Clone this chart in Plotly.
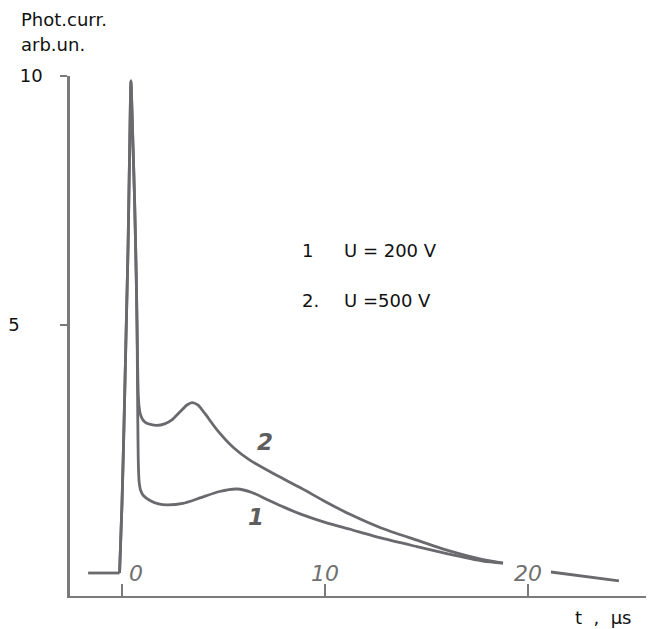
import plotly.graph_objects as go

# ---- data ----
t_base = [-1.67, -0.18, -0.12]
y_base = [0.0, 0.0, 0.0]

t_curve1 = [-0.12, 0.0, 0.1, 0.2, 0.3, 0.38, 0.44, 0.52, 0.62, 0.7, 0.74, 0.76, 0.78, 0.8, 0.84, 0.92, 1.05, 1.38, 1.8, 2.2, 3.0, 3.84, 4.8, 5.67, 6.4, 7.14, 8.0, 8.77, 10.0, 11.23, 12.8, 14.53, 16.0, 17.78, 18.77]
y_curve1 = [0.0, 1.4, 3.0, 4.8, 6.6, 8.6, 9.9, 8.9, 7.5, 6.0, 5.0, 4.0, 3.0, 2.3, 1.85, 1.66, 1.56, 1.46, 1.39, 1.37, 1.4, 1.51, 1.64, 1.69, 1.62, 1.48, 1.32, 1.19, 1.02, 0.88, 0.7, 0.53, 0.39, 0.24, 0.2]

t_curve2 = [-0.12, 0.0, 0.1, 0.2, 0.3, 0.38, 0.44, 0.52, 0.62, 0.7, 0.74, 0.77, 0.8, 0.84, 0.9, 1.0, 1.15, 1.4, 1.72, 2.1, 2.46, 2.9, 3.2, 3.45, 3.75, 4.1, 4.68, 5.5, 6.3, 7.5, 8.77, 10.0, 11.23, 12.8, 14.53, 16.0, 17.78, 18.77]
y_curve2 = [0.0, 1.4, 3.0, 4.8, 6.6, 8.6, 9.9, 8.9, 7.5, 6.0, 5.0, 4.2, 3.6, 3.35, 3.2, 3.1, 3.03, 2.99, 2.97, 3.0, 3.08, 3.26, 3.38, 3.43, 3.38, 3.2, 2.88, 2.52, 2.27, 1.99, 1.72, 1.44, 1.18, 0.9, 0.66, 0.46, 0.27, 0.2]

t_tail = [21.13, 24.48]
y_tail = [0.02, -0.16]

x_tick_vals = [0, 10, 20]
x_tick_text = ["\u00a0\u00a0\u00a0\u00a00", "10", "20"]
y_tick_vals = [0, 5, 10]
y_tick_text = ["", "5" + "\u00a0" * 4, "10"]

curve_labels = ["1", "2"]
curve_label_t = [6.6, 7.04]
curve_label_y = [1.13, 2.64]

legend_nums = ["1", "2."]
legend_texts = ["U = 200 V", "U =500 V"]

# ---- figure ----
LINE = "#6a6a6e"
FONT = "DejaVu Sans"

fig = go.Figure()
for tx, ty, shp in [(t_base, y_base, "linear"), (t_curve1, y_curve1, "spline"),
                    (t_curve2, y_curve2, "spline"), (t_tail, y_tail, "linear")]:
    fig.add_trace(go.Scatter(
        x=tx, y=ty, mode="lines",
        line=dict(color=LINE, width=2.8, shape=shp, smoothing=0.6),
        showlegend=False, hoverinfo="skip", cliponaxis=False,
    ))

# plot area in window pixels: left 70, right 654, top 76, bottom 596
def px(x):
    return (x - 70) / 584.0

def py(y):
    return (596 - y) / 520.0

TXT = dict(family=FONT, size=18, color="#111111")
annotations = [
    dict(text="Phot.curr.", x=px(19), y=py(20), xref="paper", yref="paper",
         xanchor="left", yanchor="middle", showarrow=False, font=TXT),
    dict(text="arb.un.", x=px(19), y=py(44), xref="paper", yref="paper",
         xanchor="left", yanchor="middle", showarrow=False, font=TXT),
    dict(text="t\u00a0\u00a0,\u00a0\u00a0\u00b5s", x=px(603), y=py(617), xref="paper", yref="paper",
         xanchor="center", yanchor="middle", showarrow=False, font=TXT),
]
for i, (n, txt) in enumerate(zip(legend_nums, legend_texts)):
    cy = 250 + 50 * i
    annotations.append(dict(text=n, x=px(300), y=py(cy), xref="paper", yref="paper",
                            xanchor="left", yanchor="middle", showarrow=False, font=TXT))
    annotations.append(dict(text=txt, x=px(342), y=py(cy), xref="paper", yref="paper",
                            xanchor="left", yanchor="middle", showarrow=False, font=TXT))
for lab, lt, ly in zip(curve_labels, curve_label_t, curve_label_y):
    annotations.append(dict(text=lab, x=lt, y=ly, xref="x", yref="y", showarrow=False,
                            font=dict(family=FONT, size=23, color="#5e5e5e",
                                      style="italic", weight="bold")))

# the page body has an 8px margin, so the figure is 8px smaller than the window
fig.update_layout(
    width=646, height=621,
    margin=dict(l=62, r=0, t=68, b=33),
    paper_bgcolor="white", plot_bgcolor="white",
    annotations=annotations,
    xaxis=dict(
        range=[(70 - 122) / 20.3, (654 - 122) / 20.3],
        showgrid=False, zeroline=False,
        showline=True, linecolor="#7a7a7a", linewidth=2,
        ticks="inside", ticklen=12, tickwidth=2, tickcolor="#7a7a7a",
        tickvals=x_tick_vals, ticktext=x_tick_text,
        ticklabelposition="inside",
        tickfont=dict(family=FONT, size=22, color="#707070", style="italic"),
    ),
    yaxis=dict(
        range=[(573 - 596) / 49.7, 10.0],
        showgrid=False, zeroline=False,
        showline=True, linecolor="#7a7a7a", linewidth=2.5,
        ticks="outside", ticklen=7, tickwidth=1.5, tickcolor="#7a7a7a",
        tickvals=y_tick_vals, ticktext=y_tick_text,
        ticklabelstandoff=14,
        tickfont=dict(family=FONT, size=18, color="#111111"),
    ),
)

fig.write_html("out.html")
